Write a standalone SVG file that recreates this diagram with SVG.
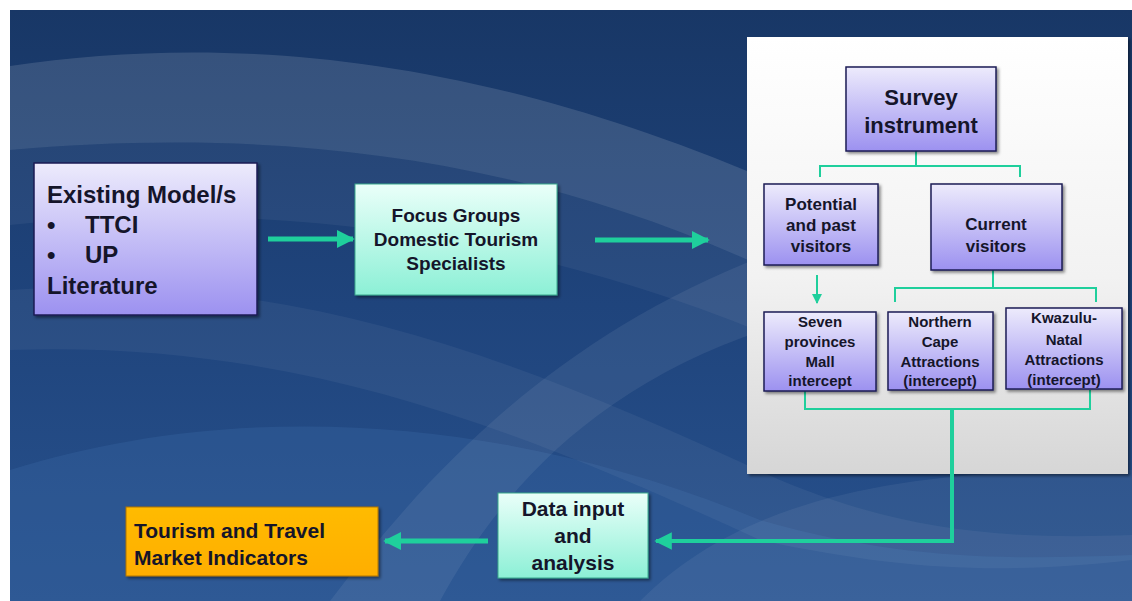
<svg xmlns="http://www.w3.org/2000/svg" width="1132" height="601" viewBox="0 0 1132 601">
<defs>
<linearGradient id="bg" x1="0" y1="0" x2="0" y2="1">
<stop offset="0" stop-color="#183766"/>
<stop offset="0.5" stop-color="#1f447c"/>
<stop offset="1" stop-color="#28528e"/>
</linearGradient>
<linearGradient id="lav" x1="0" y1="0" x2="0" y2="1">
<stop offset="0" stop-color="#edebfc"/>
<stop offset="1" stop-color="#9c91f0"/>
</linearGradient>
<linearGradient id="cyan" x1="0" y1="0" x2="0" y2="1">
<stop offset="0" stop-color="#eafff9"/>
<stop offset="1" stop-color="#8cf0d6"/>
</linearGradient>
<linearGradient id="orange" x1="0" y1="0" x2="0" y2="1">
<stop offset="0" stop-color="#ffbb00"/>
<stop offset="1" stop-color="#ffae00"/>
</linearGradient>
<linearGradient id="panel" x1="0" y1="0" x2="0" y2="1">
<stop offset="0" stop-color="#ffffff"/>
<stop offset="0.55" stop-color="#f2f2f2"/>
<stop offset="1" stop-color="#d6d6d6"/>
</linearGradient>
<filter id="sh" x="-10%" y="-10%" width="130%" height="130%">
<feDropShadow dx="2" dy="2" stdDeviation="1.5" flood-color="#000" flood-opacity="0.45"/>
</filter>
<marker id="ah" viewBox="0 0 10 10" refX="9" refY="5" markerWidth="3.6" markerHeight="3.6" orient="auto" markerUnits="strokeWidth">
<path d="M0,0 L10,5 L0,10 Z" fill="#1fcf9c"/>
</marker>
<marker id="ahm" viewBox="0 0 10 10" refX="9" refY="5" markerWidth="4.4" markerHeight="4.4" orient="auto" markerUnits="strokeWidth">
<path d="M0,0 L10,5 L0,10 Z" fill="#1fcf9c"/>
</marker>
<marker id="ahs" viewBox="0 0 10 10" refX="9" refY="5" markerWidth="5" markerHeight="5" orient="auto" markerUnits="strokeWidth">
<path d="M0,0 L10,5 L0,10 Z" fill="#1fcf9c"/>
</marker>
</defs>
<style>
text{font-family:"Liberation Sans",Arial,sans-serif;font-weight:bold;fill:#15152a;}
.c{text-anchor:middle;}
.box{stroke:#1c1c55;stroke-width:1.5;filter:url(#sh);}
.lav{fill:url(#lav);}
.cy{fill:url(#cyan);stroke:#3aa88c;stroke-width:1;filter:url(#sh);}
.or{fill:url(#orange);stroke:#b07400;stroke-width:1;filter:url(#sh);}
.thick{stroke:#1fcf9c;stroke-width:5;fill:none;}
.mid{stroke:#1fcf9c;stroke-width:4;fill:none;}
.thin{stroke:#1fcf9c;stroke-width:2;fill:none;}
</style>
<rect x="0" y="0" width="1132" height="601" fill="#ffffff"/>
<g id="background">
<rect x="10" y="10" width="1122" height="591" fill="url(#bg)"/>
<path d="M10,66 C220,35 470,50 780,185 L780,275 C520,150 260,128 10,150 Z" fill="#ffffff" opacity="0.13"/>
<path d="M10,150 C260,128 520,150 780,275 L780,340 C520,230 260,200 10,225 Z" fill="#ffffff" opacity="0.05"/>
<path d="M10,470 C250,395 520,420 760,520 C900,560 1000,560 1132,555 L1132,601 L10,601 Z" fill="#3a67a3" opacity="0.35"/>
<path d="M330,601 C430,470 560,330 780,250 L780,325 C600,380 500,490 440,601 Z" fill="#ffffff" opacity="0.07"/>
<path d="M10,290 C300,270 520,360 780,480 C900,530 1000,540 1132,535 L1132,560 C1000,575 900,570 760,540 C520,430 300,340 10,350 Z" fill="#ffffff" opacity="0.05"/>
<path d="M640,601 C760,480 950,470 1132,470 L1132,601 Z" fill="#ffffff" opacity="0.06"/>
</g>
<g id="panel">
<rect x="747" y="37" width="381" height="437" fill="url(#panel)" filter="url(#sh)"/>
</g>
<g id="connectors">
<line class="thick" x1="268" y1="239" x2="353" y2="239" marker-end="url(#ah)"/>
<line class="thick" x1="595" y1="240" x2="708" y2="240" marker-end="url(#ah)"/>
<path class="thin" d="M916,151 V166 M820,177 V166 H1020 V177"/>
<line class="thin" x1="817" y1="275" x2="817" y2="303" marker-end="url(#ahs)"/>
<path class="thin" d="M993,270 V288 M895,302 V288 H1096 V302"/>
<path class="thin" d="M805,390 V409 H1090 V390"/>
<path class="mid" d="M952,409 V541 H656" marker-end="url(#ahm)"/>
<line class="thick" x1="488" y1="541" x2="385" y2="541" marker-end="url(#ah)"/>
</g>
<g id="existing">
<rect class="box lav" x="34" y="163" width="223" height="152"/>
<text x="47" y="203" font-size="24">Existing Model/s</text>
<text x="47" y="233" font-size="24">•</text>
<text x="85" y="233" font-size="24">TTCI</text>
<text x="47" y="263" font-size="24">•</text>
<text x="85" y="263" font-size="24">UP</text>
<text x="47" y="294" font-size="24">Literature</text>
</g>
<g id="focus">
<rect class="cy" x="355" y="184" width="202" height="111"/>
<text class="c" x="456" y="222" font-size="19">Focus Groups</text>
<text class="c" x="456" y="246" font-size="19">Domestic Tourism</text>
<text class="c" x="456" y="270" font-size="19">Specialists</text>
</g>
<g id="survey">
<rect class="box lav" x="846" y="67" width="150" height="84"/>
<text class="c" x="921" y="105" font-size="22">Survey</text>
<text class="c" x="921" y="133" font-size="22">instrument</text>
</g>
<g id="potential">
<rect class="box lav" x="764" y="184" width="114" height="81"/>
<text class="c" x="821" y="210" font-size="17">Potential</text>
<text class="c" x="821" y="231" font-size="17">and past</text>
<text class="c" x="821" y="252" font-size="17">visitors</text>
</g>
<g id="current">
<rect class="box lav" x="931" y="184" width="131" height="86"/>
<text class="c" x="996" y="230" font-size="17">Current</text>
<text class="c" x="996" y="252" font-size="17">visitors</text>
</g>
<g id="seven">
<rect class="box lav" x="764" y="312" width="112" height="79"/>
<text class="c" x="820" y="327" font-size="15">Seven</text>
<text class="c" x="820" y="347" font-size="15">provinces</text>
<text class="c" x="820" y="367" font-size="15">Mall</text>
<text class="c" x="820" y="386" font-size="15">intercept</text>
</g>
<g id="northern">
<rect class="box lav" x="888" y="312" width="105" height="78"/>
<text class="c" x="940" y="327" font-size="15">Northern</text>
<text class="c" x="940" y="347" font-size="15">Cape</text>
<text class="c" x="940" y="367" font-size="15">Attractions</text>
<text class="c" x="940" y="386" font-size="15">(intercept)</text>
</g>
<g id="kwazulu">
<rect class="box lav" x="1006" y="308" width="116" height="81"/>
<text class="c" x="1064" y="323" font-size="15">Kwazulu-</text>
<text class="c" x="1064" y="345" font-size="15">Natal</text>
<text class="c" x="1064" y="365" font-size="15">Attractions</text>
<text class="c" x="1064" y="385" font-size="15">(intercept)</text>
</g>
<g id="data">
<rect class="cy" x="498" y="493" width="150" height="85"/>
<text class="c" x="573" y="516" font-size="21">Data input</text>
<text class="c" x="573" y="543" font-size="21">and</text>
<text class="c" x="573" y="570" font-size="21">analysis</text>
</g>
<g id="tourism">
<rect class="or" x="126" y="507" width="252" height="69"/>
<text x="134" y="538" font-size="21">Tourism and Travel</text>
<text x="134" y="565" font-size="21">Market Indicators</text>
</g>
</svg>
